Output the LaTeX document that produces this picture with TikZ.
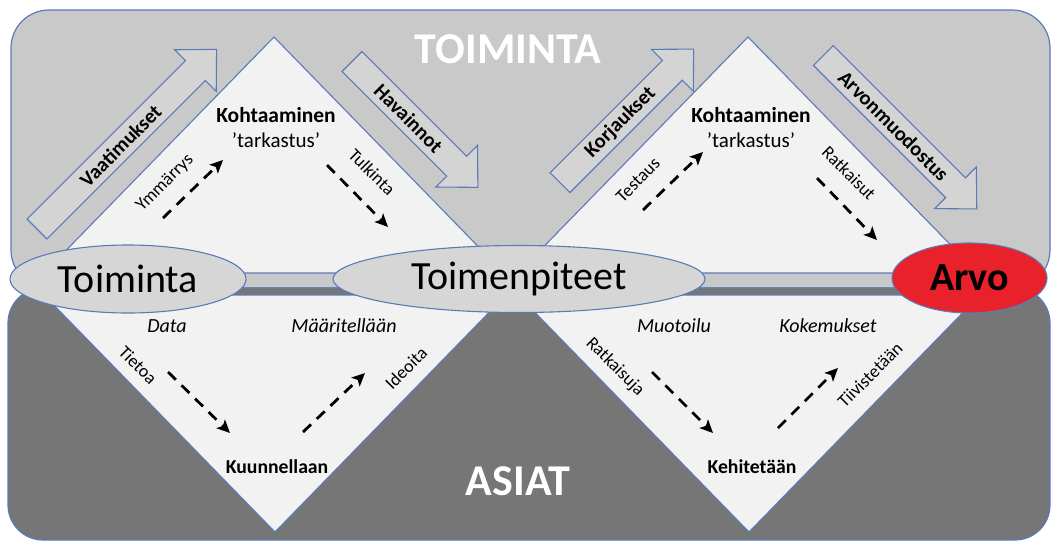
\documentclass[tikz,border=0pt]{standalone}
\usepackage{fontspec}
\setmainfont{Carlito}
\usetikzlibrary{arrows.meta,shapes.geometric}
\definecolor{bl}{HTML}{5A7BB5}
\definecolor{topgray}{HTML}{C9C9C9}
\definecolor{botgray}{HTML}{767676}
\definecolor{diam}{HTML}{F2F2F2}
\definecolor{arrfill}{HTML}{D4D4D4}
\definecolor{ellfill}{HTML}{D6D6D6}
\definecolor{arvored}{HTML}{E8212B}
\newcommand\blockarrow[5]{%
  \begin{scope}[shift={#2}, rotate=#3]
    \draw[barrow] (0,-14) -- ({#4-30},-14) -- ({#4-30},-29.5) -- (#4,0)
      -- ({#4-30},29.5) -- ({#4-30},14) -- (0,14) -- cycle;
    \node[arrowtext, rotate=#3] (#1) at ({(#4-30)/2+6},0) {#5};
  \end{scope}}
\begin{document}
\begin{tikzpicture}[x=1pt,y=-1pt,
  box/.style={draw=bl, line width=1.2pt},
  tri/.style={draw=bl, fill=diam, line width=1.1pt, line join=round},
  barrow/.style={draw=bl, fill=arrfill, line width=1.1pt},
  arrowtext/.style={font=\fontsize{20.5}{24}\selectfont\bfseries, inner sep=0pt},
  ell/.style={ellipse, draw=bl, fill=ellfill, line width=1.1pt, inner sep=0pt,
    font=\fontsize{40}{48}\selectfont},
  head/.style={font=\fontsize{21.5}{25}\selectfont\bfseries, inner sep=0pt},
  sub/.style={font=\fontsize{21}{25}\selectfont, inner sep=0pt},
  itl/.style={font=\fontsize{20}{24}\selectfont\itshape, inner sep=0pt},
  rlab/.style={font=\fontsize{18}{22}\selectfont, inner sep=0pt},
  bot/.style={font=\fontsize{19.7}{24}\selectfont\bfseries, inner sep=0pt},
  big/.style={font=\fontsize{44}{50}\selectfont\bfseries, text=white, inner sep=0pt},
  dasharrow/.style={line width=2.8pt, dash pattern=on 11pt off 8pt,
    -{Stealth[length=13pt,width=12pt,inset=3pt]}}
]
\useasboundingbox (0,0) rectangle (1055,542);
% background boxes
\draw[box, fill=topgray, rounded corners=38pt] (11,10) rectangle (1050,288);
\draw[box, fill=botgray, rounded corners=35pt] (8,288) rectangle (1050,540);
% diamonds (upper and lower triangles)
\draw[tri] (274,37) -- (504,273) -- (44,273) -- cycle;
\draw[tri] (275,532) -- (506,295) -- (44,295) -- cycle;
\draw[tri] (748,37) -- (978,273) -- (518,273) -- cycle;
\draw[tri] (749,532) -- (980,295) -- (518,295) -- cycle;
% block arrows
\blockarrow{vaat}{(37,229)}{45}{254}{Vaatimukset}
\blockarrow{hava}{(352,61.5)}{-45}{178}{Havainnot}
\blockarrow{korj}{(560,182.7)}{45}{189}{Korjaukset}
\blockarrow{arvm}{(823.3,55.5)}{-45}{217}{Arvonmuodostus}
% ellipses
\node[ell, minimum width=236, minimum height=68] (toim) at (128,279) {Toiminta};
\node[ell, minimum width=372, minimum height=67] (tpit) at (519,279) {Toimenpiteet};
\node[ell, fill=arvored, minimum width=155, minimum height=70,
  font=\fontsize{40}{48}\selectfont\bfseries] (arvo) at (969.5,278) {Arvo};
% big titles
\node[big] (ttop) at (508,49) {TOIMINTA};
\node[big] (tbot) at (518,481) {ASIAT};
% diamond headings
\node[head] (k1) at (276,115) {Kohtaaminen};
\node[sub] (t1) at (276,140) {’tarkastus’};
\node[head] (k2) at (751,115) {Kohtaaminen};
\node[sub] (t2) at (751,140) {’tarkastus’};
\node[bot] (kuun) at (277,467) {Kuunnellaan};
\node[bot] (kehi) at (752,467) {Kehitetään};
% italic labels
\node[itl] (data) at (167,326) {Data};
\node[itl] (maar) at (344,326) {Määritellään};
\node[itl] (muot) at (674,326) {Muotoilu};
\node[itl] (koke) at (828,326) {Kokemukset};
% rotated labels
\node[rlab, rotate=45] (ymm) at (165,183) {Ymmärrys};
\node[rlab, rotate=-45] (tulk) at (372,172) {Tulkinta};
\node[rlab, rotate=45] (test) at (638,180) {Testaus};
\node[rlab, rotate=-45] (ratk) at (849,173) {Ratkaisut};
\node[rlab, rotate=-45] (tiet) at (138,365) {Tietoa};
\node[rlab, rotate=45] (ideo) at (406,368) {Ideoita};
\node[rlab, rotate=-45] (ratj) at (615,367) {Ratkaisuja};
\node[rlab, rotate=45] (tiiv) at (870,375) {Tiivistetään};
% dashed arrows
\coordinate (d1s) at (163,218); \coordinate (d1e) at (223,160);
\coordinate (d2s) at (327,165); \coordinate (d2e) at (388,227);
\coordinate (d3s) at (643,210); \coordinate (d3e) at (703,152);
\coordinate (d4s) at (817,178); \coordinate (d4e) at (877,240);
\coordinate (d5s) at (168,372); \coordinate (d5e) at (230,433);
\coordinate (d6s) at (303,432); \coordinate (d6e) at (365,373);
\coordinate (d7s) at (652,372); \coordinate (d7e) at (713,433);
\coordinate (d8s) at (778,428); \coordinate (d8e) at (838,368);
\foreach \i in {1,...,8} {\draw[dasharrow] (d\i s) -- (d\i e);}
\end{tikzpicture}
\end{document}
